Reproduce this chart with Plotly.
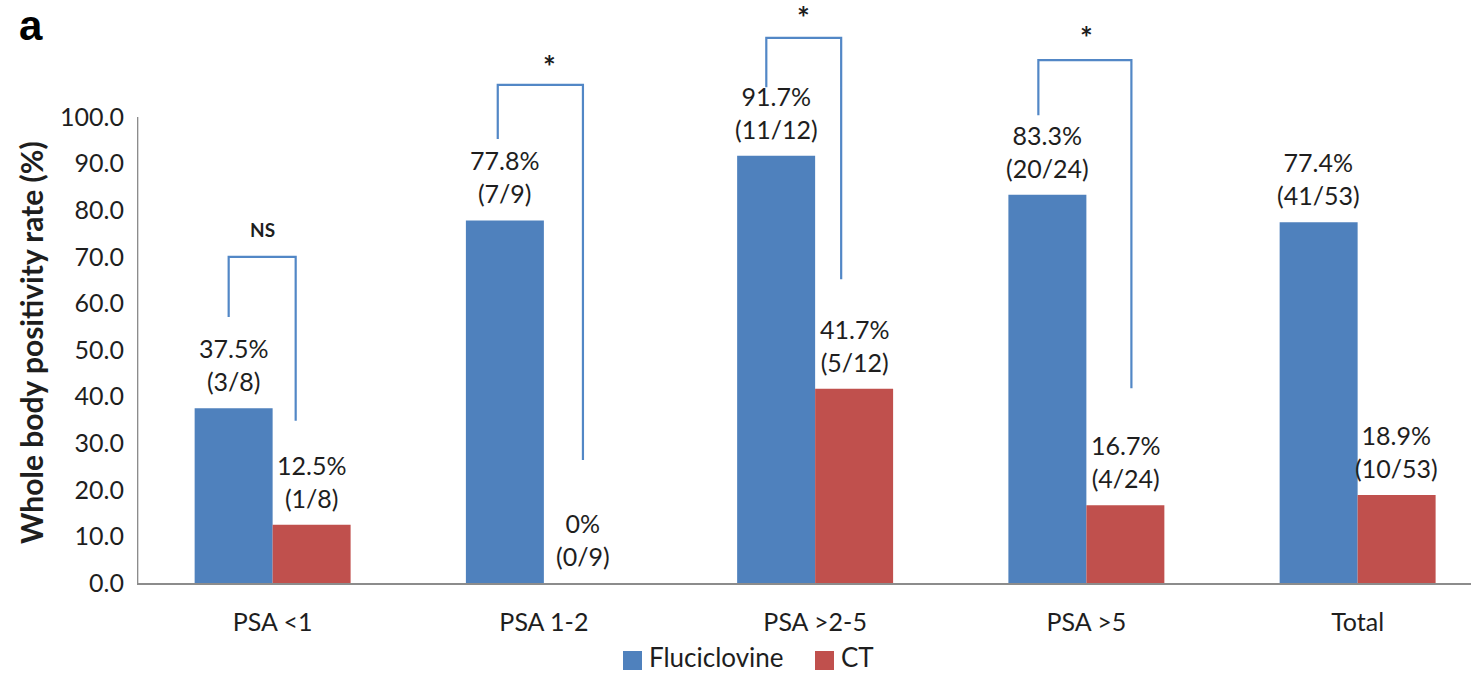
import plotly.graph_objects as go

# Whole body positivity rate by PSA group
categories = ["PSA <1", "PSA 1-2", "PSA >2-5", "PSA >5", "Total"]
flu_rate = [37.5, 77.8, 91.7, 83.3, 77.4]
flu_pos = [3, 7, 11, 20, 41]
ct_rate = [12.5, 0, 41.7, 16.7, 18.9]
ct_pos = [1, 0, 5, 4, 10]
n_total = [8, 9, 12, 24, 53]
y_ticks = [0, 10, 20, 30, 40, 50, 60, 70, 80, 90, 100]
series_names = ["Fluciclovine", "CT"]

# significance brackets: category index, left/right offsets, top, left/right ends, label
brackets = [
    dict(i=0, xl=-0.162, xr=0.085, top=70.0, yl=57.1, yr=34.8, label="NS", lx=-0.037, ly=75.8),
    dict(i=1, xl=-0.170, xr=0.144, top=106.9, yl=95.3, yr=26.4, label="*", lx=0.022, ly=111.0),
    dict(i=2, xl=-0.180, xr=0.096, top=117.0, yl=106.4, yr=65.2, label="*", lx=-0.044, ly=121.5),
    dict(i=3, xl=-0.177, xr=0.166, top=112.2, yl=100.4, yr=41.8, label="*", lx=0.0, ly=117.2),
]

BLUE = "#4F81BD"
RED = "#C0504D"
LINE = "#5287C6"
TEXT = "#1e1e1e"
FONT = "Lato"

W, H = 1471, 676
ML, MB = 137, 93
plot_w = W - ML
plot_h = H - MB
cat_px = 271.25
px_per_unit = 4.66

fig = go.Figure()
fig.add_trace(go.Bar(x=categories, y=flu_rate, name=series_names[0], showlegend=False,
                     marker=dict(color=BLUE, line=dict(width=0))))
fig.add_trace(go.Bar(x=categories, y=ct_rate, name=series_names[1], showlegend=False,
                     marker=dict(color=RED, line=dict(width=0))))

annotations = []
half = 39
for i, cat in enumerate(categories):
    for rate, pos, shift in ((flu_rate[i], flu_pos[i], -half), (ct_rate[i], ct_pos[i], half)):
        annotations.append(dict(
            x=i, y=rate, xref="x", yref="y", xshift=shift, yshift=10,
            text=f"{rate:g}%<br>({pos}/{n_total[i]})",
            showarrow=False, yanchor="bottom", xanchor="center",
            font=dict(family=FONT, size=25, color=TEXT)))

shapes = []
for b in brackets:
    xl, xr = b["i"] + b["xl"], b["i"] + b["xr"]
    shapes.append(dict(
        type="path", xref="x", yref="y",
        path=f"M {xl},{b['yl']} L {xl},{b['top']} L {xr},{b['top']} L {xr},{b['yr']}",
        line=dict(color=LINE, width=2.2), layer="above"))
    is_ns = b["label"] == "NS"
    annotations.append(dict(
        x=b["i"] + b["lx"], y=b["ly"], xref="x", yref="y",
        text=f"<b>{b['label']}</b>", showarrow=False,
        font=dict(family=FONT, size=19 if is_ns else 30, color=TEXT)))

# vertical value axis line, from 0 to 100 only
shapes.append(dict(type="line", xref="x", yref="y", x0=-0.498, x1=-0.498, y0=0, y1=100,
                   line=dict(color="#8c8c8c", width=1.6)))

# y axis title
annotations.append(dict(
    x=0, xref="paper", xshift=-106, xanchor="center",
    y=(plot_h - 343) / plot_h, yref="paper", yanchor="middle",
    text="<b>Whole body positivity rate (%)</b>", textangle=-90, showarrow=False,
    font=dict(family=FONT, size=30, color=TEXT)))

# panel letter
annotations.append(dict(
    x=0, xref="paper", xshift=-137 + 17, xanchor="left",
    y=1, yref="paper", yanchor="top", yshift=0,
    text="<b>a</b>", showarrow=False,
    font=dict(family="Liberation Sans", size=42, color="#000000")))


# legend keys below the chart (pixel positions converted to paper units)
def px_x(p):
    return (p - ML) / plot_w


def px_y(p):
    return (plot_h - p) / plot_h


legend_items = [(series_names[0], BLUE, 623), (series_names[1], RED, 815)]
for name, color, left in legend_items:
    shapes.append(dict(type="rect", xref="paper", yref="paper",
                       x0=px_x(left), x1=px_x(left + 19), y0=px_y(670), y1=px_y(651),
                       fillcolor=color, line=dict(width=0)))
    annotations.append(dict(
        x=px_x(left + 24), y=px_y(675), xref="paper", yref="paper",
        xanchor="left", yanchor="bottom", text=name, showarrow=False,
        font=dict(family=FONT, size=26, color=TEXT)))

fig.update_layout(
    width=W, height=H,
    margin=dict(l=ML, r=0, t=0, b=MB, pad=0, autoexpand=False),
    paper_bgcolor="white", plot_bgcolor="white",
    barmode="group", bargap=0.425, bargroupgap=0,
    font=dict(family=FONT, size=25, color=TEXT),
    showlegend=False,
    xaxis=dict(
        range=[-0.5, -0.5 + plot_w / cat_px],
        showline=True, linecolor="#8c8c8c", linewidth=1.6,
        ticks="", showgrid=False, zeroline=False,
        tickfont=dict(family=FONT, size=25, color=TEXT),
        ticklabelstandoff=16),
    yaxis=dict(
        range=[0, plot_h / px_per_unit],
        tickvals=y_ticks, tickformat=".1f",
        showline=False, ticks="", showgrid=False, zeroline=False,
        tickfont=dict(family=FONT, size=25, color=TEXT),
        ticklabelstandoff=12),
    annotations=annotations, shapes=shapes,
)

fig.write_html("out.html")
